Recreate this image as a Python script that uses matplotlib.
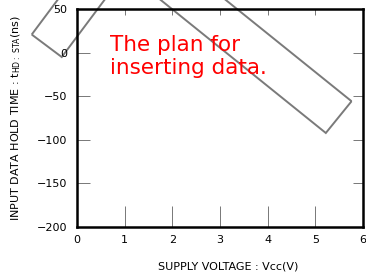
import numpy as np
import matplotlib
matplotlib.use('Agg')
from matplotlib import pyplot as plt
from matplotlib.patches import Polygon

# axis setup
x_ticks = [0, 1, 2, 3, 4, 5, 6]
y_ticks = [-200, -150, -100, -50, 0, 50]
x_label = 'SUPPLY VOLTAGE : Vcc(V)'
y_label = r'INPUT DATA HOLD TIME : t$_{\rm HD:\ STA}$(ns)'
note = 'The plan for\ninserting data.'

# "plan" outlines (data units), drawn past the axes edges
big_box_x = [5.76, 5.22, -1.32, -0.78]
big_box_y = [-55.8, -92.2, 195.8, 232.0]
small_box_x = [-0.95, -0.32, 1.57, 0.94]
small_box_y = [20.7, -5.1, 133.0, 159.0]

fig = plt.figure(figsize=(3.66, 2.8), dpi=100)
ax = fig.add_axes([0.2104, 0.1893, 0.7814, 0.7786])
ax.set_xlim(0, 6)
ax.set_ylim(-200, 50)
ax.set_xticks(x_ticks)
ax.set_yticks(y_ticks)
ax.set_yticklabels([str(v).replace('-', '\u2212') for v in y_ticks])

for s in ax.spines.values():
    s.set_linewidth(1.8)

ax.tick_params(axis='both', direction='in', labelsize=8, width=0.7,
               colors='#777777', labelcolor='black')
ax.tick_params(axis='x', top=True, pad=6)
ax.tick_params(axis='y', right=True, pad=7)
for t in ax.xaxis.get_major_ticks():
    t.tick1line.set_markersize(15)
    t.tick2line.set_markersize(4)
for t in ax.yaxis.get_major_ticks():
    t.tick1line.set_markersize(9.5)
    t.tick2line.set_markersize(7)

ax.set_xlabel(x_label, fontsize=8, labelpad=12, x=0.53)
ax.set_ylabel(y_label, fontsize=8, labelpad=10)

for bx, by in [(big_box_x, big_box_y), (small_box_x, small_box_y)]:
    ax.add_patch(Polygon(np.column_stack([bx, by]), closed=True, fill=False,
                         edgecolor='#7a7a7a', linewidth=1.4, clip_on=False))

ax.text(0.69, 20, note, color='red', fontsize=15.5, va='top', ha='left',
        family='DejaVu Sans', linespacing=1.15)

fig.savefig('out.png', dpi=100)
